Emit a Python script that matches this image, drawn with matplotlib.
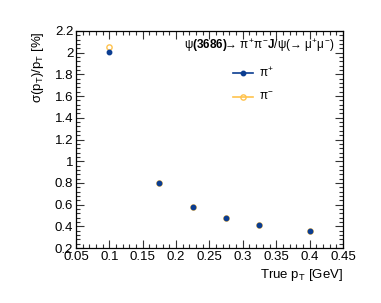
import matplotlib
matplotlib.use("Agg")
import matplotlib.pyplot as plt
from matplotlib.ticker import MultipleLocator, FuncFormatter

plt.rcParams['font.family'] = ['Liberation Sans', 'DejaVu Sans']
plt.rcParams['mathtext.fontset'] = 'custom'
plt.rcParams['mathtext.rm'] = 'Liberation Sans'
plt.rcParams['mathtext.it'] = 'Liberation Sans'
plt.rcParams['mathtext.bf'] = 'Liberation Sans:bold'
plt.rcParams['mathtext.fallback'] = 'stixsans'

# Daten: Auflösung vs. wahres pT
pt = [0.1, 0.175, 0.225, 0.275, 0.325, 0.4]
res_pip = [2.01, 0.80, 0.58, 0.475, 0.41, 0.355]
res_pim = [2.05, 0.80, 0.58, 0.475, 0.41, 0.355]

blue = '#0b3d91'
orange = '#ffc34d'

fig = plt.figure(figsize=(3.81, 3.03), dpi=100)
ax = fig.add_axes([0.1995, 0.1815, 0.7005, 0.7162])

ax.plot(pt, res_pim, 'o', ms=3.8, mfc='none', mec=orange, mew=1.0, zorder=2)
ax.plot(pt, res_pip, 'o', ms=3.2, color=blue, zorder=3)

ax.set_xlim(0.05, 0.45)
ax.set_ylim(0.2, 2.2)
ax.xaxis.set_major_locator(MultipleLocator(0.05))
ax.xaxis.set_minor_locator(MultipleLocator(0.01))
ax.yaxis.set_major_locator(MultipleLocator(0.2))
ax.yaxis.set_minor_locator(MultipleLocator(0.04))
fmt = FuncFormatter(lambda v, p: ('%g' % round(v, 3)))
ax.xaxis.set_major_formatter(fmt)
ax.yaxis.set_major_formatter(fmt)

ax.tick_params(which='both', direction='in', top=True, right=True, labelsize=9.5,
               width=0.8, color='#333333')
ax.tick_params(which='major', length=6, pad=2)
ax.tick_params(which='minor', length=3)
for s in ax.spines.values():
    s.set_linewidth(0.9)

ax.set_xlabel('True p$_{\\mathrm{T}}$ [GeV]', fontsize=9.5, loc='right', labelpad=3)
ax.set_ylabel('σ(p$_{\\mathrm{T}}$)/p$_{\\mathrm{T}}$ [%]', fontsize=9.5, loc='top', labelpad=6)

# Legende
titel = r'$ψ\mathbf{(3686)}\!→\ π^{+}π^{-}\mathbf{J}/ψ(→\ μ^{+}μ^{-})$'
ax.text(0.97, 0.935, titel, transform=ax.transAxes, ha='right', va='center', fontsize=8.5)
ax.plot([], [], '-o', color=blue, ms=3.2, lw=1.2, label='π$^{+}$')
ax.plot([], [], '-o', color=orange, mfc='none', ms=3.8, lw=1.2, label='π$^{-}$')
ax.legend(loc='upper left', bbox_to_anchor=(0.55, 0.885), frameon=False, fontsize=8.5,
          handlelength=1.7, labelspacing=0.95, handletextpad=0.5)

fig.savefig('out.png', dpi=100)
